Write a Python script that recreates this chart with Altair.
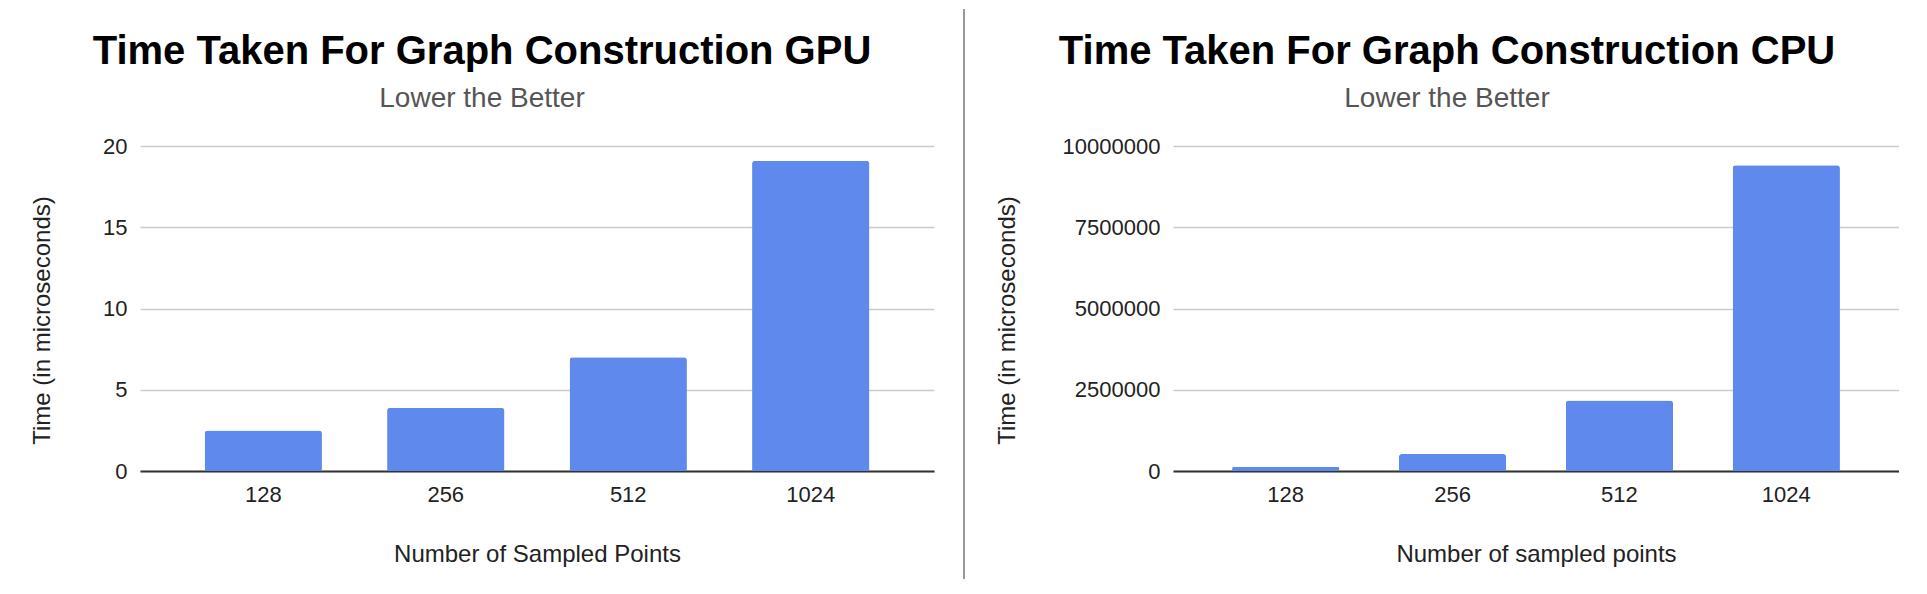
import altair as alt
import pandas as pd

# ---- data ----
points = ["128", "256", "512", "1024"]
gpu_time = [2.5, 3.9, 7.0, 19.1]
cpu_time = [130000, 520000, 2170000, 9410000]

gpu_ticks = [0, 5, 10, 15, 20]
cpu_ticks = [0, 2500000, 5000000, 7500000, 10000000]

gpu_df = pd.DataFrame({"points": points, "time": gpu_time})
cpu_df = pd.DataFrame({"points": points, "time": cpu_time})

FONT = "Liberation Sans"
BAR = "#6089EE"
TXT = "#222222"


def panel(df, title, xtitle, ticks, width, ytitle_x):
    return (
        alt.Chart(
            df,
            title=alt.TitleParams(
                text=title,
                subtitle="Lower the Better",
                anchor="middle",
                frame="bounds",
                font=FONT,
                fontSize=40,
                fontWeight="bold",
                color="#000000",
                subtitleFont=FONT,
                subtitleFontSize=28,
                subtitleColor="#555555",
                subtitlePadding=13,
                offset=22,
            ),
        )
        .mark_bar(color=BAR, cornerRadiusTopLeft=3, cornerRadiusTopRight=3)
        .encode(
            x=alt.X(
                "points:N",
                sort=points,
                title=xtitle,
                scale=alt.Scale(paddingInner=0.357, paddingOuter=0.354),
                axis=alt.Axis(
                    labelAngle=0,
                    ticks=False,
                    grid=False,
                    domain=True,
                    domainColor="#333333",
                    domainWidth=2,
                    labelPadding=13,
                    titlePadding=37,
                    labelFont=FONT,
                    titleFont=FONT,
                    labelFontSize=22,
                    titleFontSize=24,
                    titleFontWeight="normal",
                    labelColor=TXT,
                    titleColor=TXT,
                ),
            ),
            y=alt.Y(
                "time:Q",
                title="Time (in microseconds)",
                scale=alt.Scale(domain=[ticks[0], ticks[-1]], nice=False),
                axis=alt.Axis(
                    values=ticks,
                    format="d",
                    domain=False,
                    ticks=False,
                    grid=True,
                    gridColor="#CCCCCC",
                    gridWidth=1.5,
                    labelPadding=13,
                    labelFont=FONT,
                    titleFont=FONT,
                    labelFontSize=22,
                    titleFontSize=24,
                    titleFontWeight="normal",
                    labelColor=TXT,
                    titleColor=TXT,
                    titleX=ytitle_x,
                    titleY=174,
                    titleAngle=270,
                    titleAlign="center",
                    titleBaseline="middle",
                ),
            ),
        )
        .properties(width=width, height=325)
    )


left = panel(gpu_df, "Time Taken For Graph Construction GPU",
             "Number of Sampled Points", gpu_ticks, 794, -98)
right = panel(cpu_df, "Time Taken For Graph Construction CPU",
              "Number of sampled points", cpu_ticks, 726, -166)

divider = (
    alt.Chart(pd.DataFrame({"d": [0]}))
    .mark_rule(color="#999999", strokeWidth=2)
    .encode(x=alt.value(0), y=alt.value(-137), y2=alt.value(433))
    .properties(width=179, height=325)
)

chart = (
    alt.hconcat(left, divider, right, spacing=30, bounds="flush")
    .properties(padding={"left": 22, "top": 0, "right": 0, "bottom": 0})
    .configure_view(stroke=None)
)

chart.save("out.html", embed_options={"renderer": "svg", "actions": False})
